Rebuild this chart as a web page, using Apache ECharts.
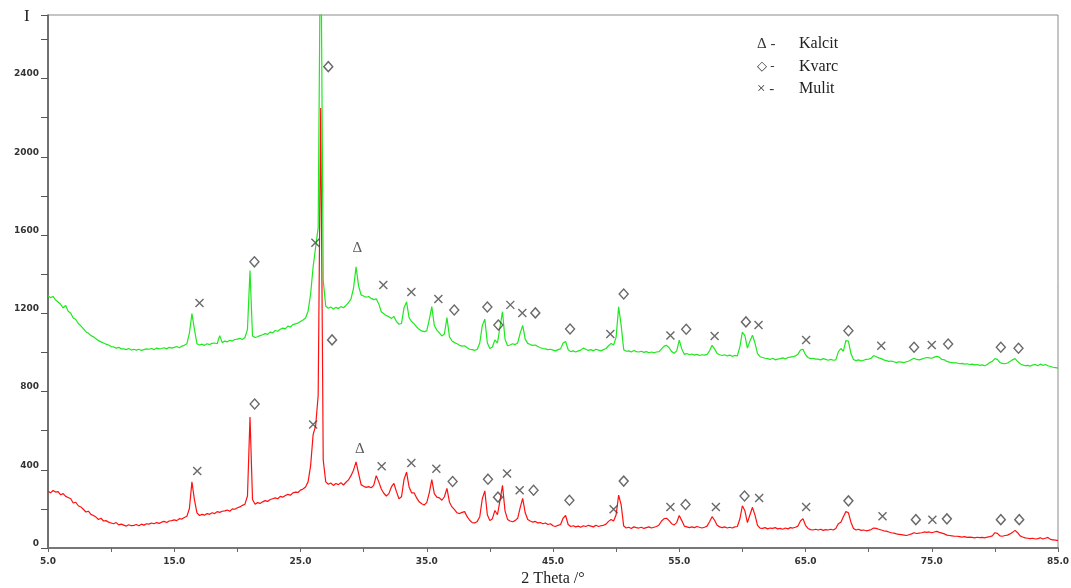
<!DOCTYPE html>
<html>
<head>
<meta charset="utf-8">
<script src="https://cdn.jsdelivr.net/npm/echarts@6/dist/echarts.min.js"></script>
<style>
html,body{margin:0;padding:0;background:#fff;}
#chart{width:1071px;height:588px;}
</style>
</head>
<body>
<div id="chart"></div>
<script>
// 2 Theta sampling grid: 5.0 .. 85.0 in 0.2 degree steps
const thetaStart = 5.0;
const thetaStep = 0.2;

// Lower (red) pattern intensities, one row per degree (x.0, x.2, x.4, x.6, x.8)
const redIntensity = [
  290, 282, 294, 286, 288,   // 5
  272, 278, 264, 258, 252,   // 6
  230, 234, 216, 210, 198,   // 7
  184, 188, 172, 166, 158,   // 8
  146, 152, 138, 140, 132,   // 9
  128, 124, 130, 118, 122,   // 10
  117, 112, 119, 114, 116,   // 11
  120, 114, 122, 117, 124,   // 12
  122, 128, 124, 130, 126,   // 13
  132, 136, 130, 138, 140,   // 14
  144, 140, 150, 148, 156,   // 15
  162, 202, 338, 246, 180,   // 16
  166, 172, 168, 176, 172,   // 17
  180, 176, 186, 182, 188,   // 18
  190, 194, 188, 200, 198,   // 19
  206, 210, 218, 224, 266,   // 20
  670, 248, 224, 232, 228,   // 21
  236, 242, 238, 248, 252,   // 22
  256, 252, 264, 260, 268,   // 23
  274, 270, 282, 286, 284,   // 24
  296, 302, 312, 338, 420,   // 25
  580, 625, 780, 2250, 450,  // 26
  338, 326, 332, 320, 330,   // 27
  324, 334, 322, 336, 348,   // 28
  370, 398, 440, 382, 324,   // 29
  316, 310, 314, 308, 320,   // 30
  370, 338, 302, 280, 266,   // 31
  278, 312, 330, 288, 252,   // 32
  262, 350, 388, 312, 282,   // 33
  282, 256, 236, 226, 220,   // 34
  232, 282, 350, 278, 260,   // 35
  256, 244, 262, 305, 234,   // 36
  210, 196, 180, 176, 182,   // 37
  186, 160, 142, 130, 128,   // 38
  136, 160, 252, 292, 170,   // 39
  140, 150, 192, 170, 242,   // 40
  320, 190, 146, 138, 134,   // 41
  140, 152, 206, 254, 180,   // 42
  146, 138, 132, 136, 128,   // 43
  130, 124, 128, 120, 124,   // 44
  114, 110, 116, 120, 152,   // 45
  166, 120, 110, 114, 108,   // 46
  112, 106, 114, 110, 116,   // 47
  112, 108, 116, 110, 114,   // 48
  116, 122, 136, 146, 138,   // 49
  170, 270, 220, 112, 102,   // 50
  106, 100, 108, 104, 102,   // 51
  106, 100, 104, 108, 102,   // 52
  106, 110, 118, 138, 150,   // 53
  152, 140, 124, 118, 130,   // 54
  166, 140, 112, 108, 104,   // 55
  108, 104, 110, 106, 102,   // 56
  106, 112, 134, 160, 142,   // 57
  116, 108, 104, 108, 102,   // 58
  106, 102, 108, 110, 148,   // 59
  216, 190, 130, 170, 208,   // 60
  168, 116, 102, 100, 104,   // 61
  98, 102, 100, 104, 98,     // 62
  100, 96, 102, 98, 104,     // 63
  102, 106, 112, 138, 150,   // 64
  116, 100, 94, 92, 96,      // 65
  92, 96, 90, 94, 92,        // 66
  96, 92, 100, 124, 132,     // 67
  160, 186, 180, 132, 100,   // 68
  92, 96, 90, 92, 88,        // 69
  90, 94, 102, 100, 96,      // 70
  92, 88, 86, 82, 78,        // 71
  76, 72, 70, 68, 66,        // 72
  64, 68, 72, 78, 74,        // 73
  76, 78, 82, 80, 82,        // 74
  78, 82, 85, 80, 76,        // 75
  72, 66, 64, 62, 60,        // 76
  60, 58, 56, 58, 54,        // 77
  56, 54, 52, 55, 53,        // 78
  54, 52, 56, 58, 62,        // 79
  78, 75, 62, 60, 64,        // 80
  66, 72, 80, 90, 78,        // 81
  62, 56, 52, 50, 48,        // 82
  50, 46, 48, 52, 46,        // 83
  50, 54, 44, 42, 40,        // 84
  38                         // 85
];

// Upper (green) pattern intensities
const greenIntensity = [
  1290, 1280, 1286, 1268, 1258,  // 5
  1246, 1228, 1240, 1210, 1200,  // 6
  1176, 1168, 1148, 1136, 1122,  // 7
  1106, 1098, 1086, 1080, 1070,  // 8
  1060, 1054, 1048, 1042, 1038,  // 9
  1030, 1028, 1022, 1026, 1018,  // 10
  1018, 1014, 1020, 1012, 1016,  // 11
  1012, 1016, 1010, 1014, 1018,  // 12
  1016, 1020, 1014, 1022, 1018,  // 13
  1020, 1024, 1018, 1026, 1022,  // 14
  1026, 1030, 1024, 1032, 1036,  // 15
  1044, 1098, 1198, 1118, 1044,  // 16
  1038, 1042, 1036, 1044, 1040,  // 17
  1046, 1048, 1044, 1086, 1050,  // 18
  1058, 1054, 1062, 1058, 1066,  // 19
  1068, 1072, 1066, 1076, 1118,  // 20
  1418, 1084, 1076, 1080, 1086,  // 21
  1090, 1096, 1092, 1104, 1100,  // 22
  1112, 1108, 1118, 1124, 1120,  // 23
  1134, 1130, 1142, 1146, 1150,  // 24
  1158, 1166, 1176, 1210, 1298,  // 25
  1438, 1538, 1638, 3300, 1368,  // 26
  1236, 1226, 1232, 1222, 1230,  // 27
  1224, 1234, 1228, 1240, 1254,  // 28
  1274, 1328, 1438, 1340, 1294,  // 29
  1288, 1282, 1286, 1276, 1270,  // 30
  1274, 1248, 1208, 1198, 1188,  // 31
  1182, 1174, 1184, 1158, 1144,  // 32
  1148, 1228, 1258, 1178, 1158,  // 33
  1146, 1130, 1118, 1110, 1106,  // 34
  1110, 1168, 1234, 1138, 1114,  // 35
  1100, 1084, 1094, 1178, 1080,  // 36
  1058, 1050, 1044, 1036, 1032,  // 37
  1034, 1024, 1016, 1014, 1010,  // 38
  1016, 1048, 1138, 1170, 1048,  // 39
  1020, 1028, 1064, 1048, 1128,  // 40
  1208, 1068, 1034, 1038, 1044,  // 41
  1040, 1048, 1098, 1138, 1068,  // 42
  1046, 1040, 1036, 1038, 1030,  // 43
  1024, 1020, 1018, 1014, 1016,  // 44
  1012, 1008, 1014, 1018, 1048,  // 45
  1056, 1014, 1004, 1008, 1002,  // 46
  1008, 1012, 1022, 1016, 1010,  // 47
  1014, 1008, 1016, 1012, 1008,  // 48
  1014, 1020, 1034, 1046, 1038,  // 49
  1078, 1233, 1138, 1014, 1006,  // 50
  1008, 1002, 1010, 1004, 1002,  // 51
  1006, 1000, 1004, 998, 1002,   // 52
  998, 1002, 1004, 1018, 1032,   // 53
  1036, 1024, 1004, 996, 1008,   // 54
  1063, 1018, 990, 994, 988,     // 55
  992, 986, 990, 984, 988,       // 56
  986, 990, 1008, 1036, 1018,    // 57
  994, 988, 984, 988, 982,       // 58
  986, 980, 984, 982, 1028,      // 59
  1104, 1086, 1022, 1058, 1088,  // 60
  1048, 994, 978, 974, 970,      // 61
  968, 964, 970, 962, 966,       // 62
  968, 972, 966, 974, 976,       // 63
  978, 982, 990, 1012, 1016,     // 64
  988, 974, 968, 970, 966,       // 65
  966, 962, 968, 964, 960,       // 66
  964, 960, 962, 1003, 1020,     // 67
  1006, 1060, 1058, 994, 964,    // 68
  958, 962, 956, 960, 964,       // 69
  966, 970, 984, 978, 972,       // 70
  968, 962, 958, 954, 956,       // 71
  952, 948, 952, 950, 948,       // 72
  952, 956, 964, 970, 964,       // 73
  962, 966, 970, 974, 972,       // 74
  970, 976, 980, 976, 964,       // 75
  962, 954, 950, 948, 946,       // 76
  946, 942, 944, 940, 942,       // 77
  938, 940, 936, 938, 934,       // 78
  936, 932, 938, 948, 954,       // 79
  968, 964, 948, 944, 942,       // 80
  946, 954, 962, 968, 954,       // 81
  942, 936, 932, 934, 930,       // 82
  936, 938, 932, 940, 934,       // 83
  938, 932, 928, 924, 922,       // 84
  920                            // 85
];

// Phase annotation marks (2Theta, position)
const kvarcTheta = [21.35, 27.2, 27.5, 37.18, 39.8, 40.67, 43.6, 46.35, 50.6, 55.55, 60.28, 68.4, 73.6, 76.3, 80.47, 81.87,
                    21.37, 37.05, 39.85, 40.64, 43.46, 46.3, 50.6, 55.5, 60.17, 68.4, 73.74, 76.2, 80.47, 81.93];
const kvarcPos   = [1463, 2461, 1064, 1217, 1232, 1140, 1202, 1120, 1299, 1118, 1156, 1111, 1026, 1043, 1026, 1021,
                    736, 340, 352, 260, 295, 244, 342, 222, 266, 241, 145, 149, 145, 145];
const mulitTheta = [17.0, 26.18, 31.56, 33.78, 35.92, 41.62, 42.57, 49.54, 54.3, 57.8, 61.28, 65.05, 71.0, 75.0,
                    16.82, 26.0, 31.43, 33.78, 35.76, 41.36, 42.36, 49.8, 54.3, 57.9, 61.33, 65.05, 71.1, 75.05];
const mulitPos   = [1253, 1560, 1345, 1309, 1273, 1243, 1202, 1094, 1086, 1084, 1140, 1064, 1034, 1038,
                    394, 632, 418, 435, 405, 381, 295, 198, 210, 210, 256, 210, 162, 145];
const kalcitTheta = [29.5, 29.69];
const kalcitPos   = [1535, 505];

// Axis ticks
const xLabelValues = [5, 15, 25, 35, 45, 55, 65, 75, 85];
const yLabelValues = [0, 400, 800, 1200, 1600, 2000, 2400];

// Legend entries
const legendSymbols = ['\u0394 -', '\u25C7 -', '\u00D7 -'];
const legendNames = ['Kalcit', 'Kvarc', 'Mulit'];

const pairs = (xs, ys) => xs.map((x, i) => [x, ys[i]]);
const toSeries = arr => arr.map((v, i) => [+(thetaStart + i * thetaStep).toFixed(1), v]);

const chart = echarts.init(document.getElementById('chart'), null, {renderer: 'canvas'});

const legendGraphics = [];
legendSymbols.forEach((s, i) => {
  const y = 44 + i * 22.5;
  legendGraphics.push({
    type: 'text', x: 757, y: y,
    style: { text: s, x: 0, y: 0, font: (i === 1 ? '13px' : '15px') + ' "Liberation Serif"', fill: '#333', verticalAlign: 'middle', align: 'left' }
  });
  legendGraphics.push({
    type: 'text', x: 799, y: y,
    style: { text: legendNames[i], x: 0, y: 0, font: '16px "Liberation Serif"', fill: '#222', verticalAlign: 'middle', align: 'left' }
  });
});

const option = {
  animation: false,
  backgroundColor: '#ffffff',
  grid: { left: 48, right: 13, top: 15, bottom: 40, containLabel: false, outerBoundsMode: 'none',
          show: true, borderColor: '#8a8a8a', borderWidth: 1, backgroundColor: 'transparent' },
  xAxis: {
    type: 'value', min: 5, max: 85, interval: 5,
    name: '2 Theta /\u00B0', nameLocation: 'middle', nameGap: 22,
    nameTextStyle: { fontFamily: 'Liberation Serif', fontSize: 16, color: '#222' },
    axisLine: { show: true, onZero: false, lineStyle: { color: '#777', width: 2 } },
    axisTick: { show: true, length: 4, lineStyle: { color: '#666' } },
    axisLabel: {
      margin: 9, fontFamily: 'DejaVu Sans', fontWeight: 'bold', fontSize: 9, color: '#333',
      formatter: v => (xLabelValues.indexOf(Math.round(v)) >= 0 && Math.abs(v - Math.round(v)) < 1e-6) ? v.toFixed(1) : ''
    },
    splitLine: { show: false }
  },
  yAxis: {
    type: 'value', min: 0, max: 2725, interval: 200,
    axisLine: { show: true, onZero: false, lineStyle: { color: '#555', width: 1.5 } },
    axisTick: { show: true, length: 7, lineStyle: { color: '#555' } },
    axisLabel: {
      margin: 9, fontFamily: 'DejaVu Sans', fontWeight: 'bold', fontSize: 9, color: '#333', verticalAlign: 'bottom',
      formatter: v => yLabelValues.indexOf(v) >= 0 ? String(v) : ''
    },
    splitLine: { show: false }
  },
  series: [
    {
      name: 'red', type: 'line', data: toSeries(redIntensity), showSymbol: false, symbol: 'none',
      lineStyle: { color: '#ff1010', width: 1.2 }, clip: true, z: 2
    },
    {
      name: 'green', type: 'line', data: toSeries(greenIntensity), showSymbol: false, symbol: 'none',
      lineStyle: { color: '#1ee81e', width: 1.2 }, clip: true, z: 3
    },
    {
      name: 'Kvarc', type: 'scatter', data: pairs(kvarcTheta, kvarcPos), symbol: 'diamond', symbolSize: [9, 10],
      itemStyle: { color: 'rgba(255,255,255,0)', borderColor: '#444', borderWidth: 1.4 }, z: 5, silent: true
    },
    {
      name: 'Mulit', type: 'scatter', data: pairs(mulitTheta, mulitPos), symbol: 'path://M0,0L10,10M10,0L0,10', symbolSize: 8,
      itemStyle: { color: 'rgba(255,255,255,0)', borderColor: '#444', borderWidth: 1.4 }, z: 5, silent: true
    },
    {
      name: 'Kalcit', type: 'scatter', data: pairs(kalcitTheta, kalcitPos), symbol: 'circle', symbolSize: 1,
      itemStyle: { color: 'rgba(255,255,255,0)' }, z: 5, silent: true,
      label: { show: true, position: 'inside', formatter: '\u0394', fontFamily: 'Liberation Serif', fontSize: 15, color: '#333' }
    }
  ],
  graphic: [
    { type: 'text', x: 24, y: 17, style: { text: 'I', x: 0, y: 0, font: '17px "Liberation Serif"', fill: '#222', verticalAlign: 'middle' } }
  ].concat(legendGraphics)
};

chart.setOption(option);
</script>
</body>
</html>
